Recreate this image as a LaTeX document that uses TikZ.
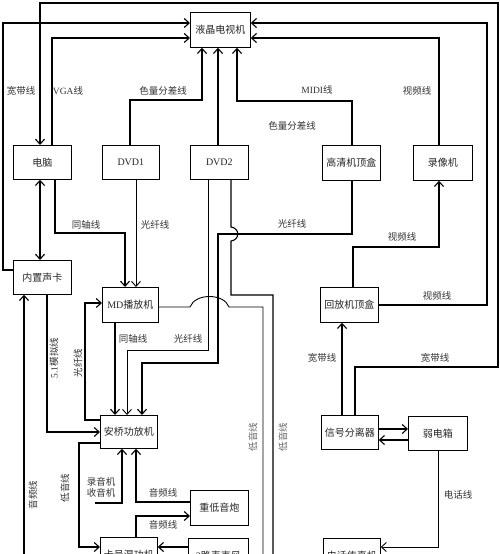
\documentclass[tikz,border=0pt]{standalone}
\usepackage{fontspec}
\setmainfont{Liberation Serif}
\newfontfamily\cjk{Noto Sans CJK SC}
\usetikzlibrary{arrows.meta}
\begin{document}
\begin{tikzpicture}[x=1pt,y=-1pt,
  box/.style={draw, line width=0.7pt, inner sep=0pt, anchor=north west,
    font=\cjk\fontsize{10}{12}\selectfont, text=black!85},
  conn/.style={line width=1.1pt},
  thinln/.style={line width=0.9pt},
  arr/.style={conn, -{Straight Barb[length=5pt,width=9pt]}},
  arrt/.style={thinln, -{Straight Barb[length=5pt,width=9pt]}},
  arr2/.style={conn, {Straight Barb[length=5pt,width=9pt]}-{Straight Barb[length=5pt,width=9pt]}},
  lab/.style={font=\cjk\fontsize{9.5}{11}\selectfont, text=black!80, inner sep=0pt},
  vlab/.style={lab, rotate=90}]
\useasboundingbox (0,0) rectangle (500,554);
\clip (0,0) rectangle (500,554);
\fill[white] (0,0) rectangle (500,554);

% boxes
\node[box, minimum width=60pt, minimum height=35pt] (tv) at (190,12) {液晶电视机};
\node[box, minimum width=58pt, minimum height=34pt] (pc) at (13,145) {电脑};
\node[box, minimum width=57pt, minimum height=34pt] (dvd1) at (102,145) {\rmfamily DVD1};
\node[box, minimum width=58pt, minimum height=34pt] (dvd2) at (190,145) {\rmfamily DVD2};
\node[box, minimum width=58pt, minimum height=35pt] (hd) at (322,145) {高清机顶盒};
\node[box, minimum width=59pt, minimum height=35pt] (vcr) at (413,145) {录像机};
\node[box, minimum width=58pt, minimum height=34pt] (card) at (13,260) {内置声卡};
\node[box, minimum width=56pt, minimum height=35pt] (md) at (102,287) {{\rmfamily MD}播放机};
\node[box, minimum width=58pt, minimum height=35pt] (stb) at (320,287) {回放机顶盒};
\node[box, minimum width=57pt, minimum height=33pt] (amp) at (100,415) {安桥功放机};
\node[box, minimum width=57pt, minimum height=34pt] (split) at (321,415) {信号分离器};
\node[box, minimum width=59pt, minimum height=34pt] (weak) at (408,416) {弱电箱};
\node[box, minimum width=58pt, minimum height=35pt] (sub) at (190,490) {重低音炮};
\node[box, minimum width=57pt, minimum height=35pt] (kara) at (100,537) {卡号混功机};
\node[box, minimum width=60pt, minimum height=35pt] (mic) at (188,538) {{\rmfamily 2}路麦克风};
\node[box, minimum width=57pt, minimum height=35pt] (fax) at (323,538) {电话传真机};

% free ends
\coordinate (e263) at (263,600);
\coordinate (e273) at (273,600);
\coordinate (e24) at (24,600);
\coordinate (rec) at (95,503);

% connectors to the TV
\draw[arr] (split.north -| 355,0) -- (355,367) -| (498,3) -| (pc.north -| 40,0);
\draw[arr] (stb.east |- 0,305) -| (487,23) -- (tv.east |- 0,23);
\draw[arr] (vcr.north -| 439,0) |- (tv.east |- 0,38);
\draw[arr] (card.west |- 0,270) -| (3,23) -- (tv.west |- 0,23);
\draw[arr] (pc.north -| 52,0) |- (tv.west |- 0,38);
\draw[arr] (dvd1.north -| 130,0) |- (202,100) -- (tv.south -| 202,0);
\draw[arr] (dvd2.north -| 218,0) -- (tv.south -| 218,0);
\draw[arr] (hd.north -| 352,0) |- (237,101) -- (tv.south -| 237,0);

% middle
\draw[arr2] (pc.south -| 40,0) -- (card.north -| 40,0);
\draw[arr] (pc.south -| 55,0) |- (125,233) -- (md.north -| 125,0);
\draw[arrt] (dvd1.south -| 136,0) -- (md.north -| 136,0);
\draw[arr] (hd.south -| 352,0) |- (218,234) -- (218,363) -| (amp.north -| 142,0);
\draw[conn] (dvd2.south -| 231,0) -- (231,227) .. controls (240,228) and (240,240) .. (231,241) -- (231,295) -| (e273);
\draw[thinln] (md.east |- 0,307) -- (190,307) .. controls (195,293) and (224,293) .. (229,307) -| (e263);
\draw[arrt] (dvd2.south -| 208,0) -- (208,350) -| (amp.north -| 127,0);
\draw[arr] (md.south -| 115,0) -- (amp.north -| 115,0);
\draw[arr] (amp.west |- 0,420) -| (85,303) -- (md.west |- 0,303);
\draw[arr] (card.south -| 47,0) |- (amp.west |- 0,432);
\draw[arr] (e24) -- (card.south -| 24,0);
\draw[arr] (amp.west |- 0,443) -| (79,547) -- (kara.west |- 0,547);
\draw[arr] (rec) -| (amp.south -| 122,0);
\draw[arr] (sub.west |- 0,502) -| (amp.south -| 136,0);
\draw[arr] (kara.north -| 136,0) |- (sub.west |- 0,516);
\draw[arr] (mic.west |- 0,547) -- (kara.east |- 0,547);

% right side
\draw[arr] (split.north -| 342,0) -- (stb.south -| 342,0);
\draw[arr] (stb.north -| 353,0) |- (439,247) -- (vcr.south -| 439,0);
\draw[arr] (split.east |- 0,429) -- (weak.west |- 0,429);
\draw[arr] (weak.west |- 0,440) -- (split.east |- 0,440);
\draw[arrt] (weak.south -| 438,0) |- (fax.east |- 0,547);

% labels
\node[lab] (l1) at (21,91) {宽带线};
\node[lab] (l2) at (68,91) {{\rmfamily VGA}线};
\node[lab] (l3) at (163,91) {色量分差线};
\node[lab] (l4) at (317,90) {{\rmfamily MIDI}线};
\node[lab] (l5) at (417,91) {视频线};
\node[lab] (l6) at (292,126) {色量分差线};
\node[lab] (l7) at (86,225) {同轴线};
\node[lab] (l8) at (155,225) {光纤线};
\node[lab] (l9) at (292,224) {光纤线};
\node[lab] (l10) at (402,237) {视频线};
\node[lab] (l11) at (437,296) {视频线};
\node[vlab] (l12) at (54,358) {{\rmfamily 5.1}模拟线};
\node[vlab] (l13) at (78,363) {光纤线};
\node[lab] (l14) at (133,339) {同轴线};
\node[lab] (l15) at (188,339) {光纤线};
\node[lab] (l16) at (322,358) {宽带线};
\node[lab] (l17) at (435,358) {宽带线};
\node[vlab, text=black!60] (l18) at (253,437) {低音线};
\node[vlab, text=black!60] (l19) at (283,437) {低音线};
\node[vlab] (l20) at (33,495) {音频线};
\node[vlab] (l21) at (65,488) {低音线};
\node[lab] (l22) at (101,482) {录音机};
\node[lab] (l23) at (101,493) {收音机};
\node[lab] (l24) at (163,493) {音频线};
\node[lab] (l25) at (163,525) {音频线};
\node[lab] (l26) at (458,495) {电话线};
\end{tikzpicture}
\end{document}
